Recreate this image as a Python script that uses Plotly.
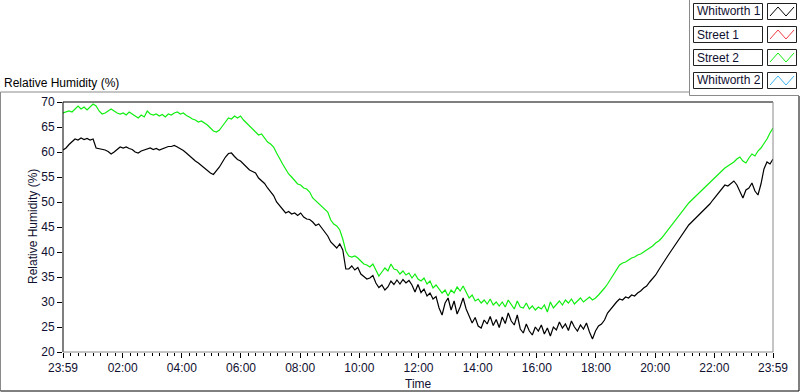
import numpy as np
import plotly.graph_objects as go

# ---------------- data ----------------
series_names = ["Whitworth 1", "Street 1", "Street 2", "Whitworth 2"]
series_colors = ["#000000", "#f03c46", "#10ee10", "#3cb4f0"]

tick_labels = ["23:59", "02:00", "04:00", "06:00", "08:00", "10:00", "12:00",
               "14:00", "16:00", "18:00", "20:00", "22:00", "23:59"]
tick_minutes = [0, 121, 241, 361, 481, 601, 721, 841, 961, 1081, 1201, 1321, 1440]

whitworth1 = [
    60.4, 60.8, 61.5, 62.0, 62.6, 62.4, 62.8, 62.5, 62.7, 62.4, 62.6, 60.8, 60.7, 60.5, 60.4, 60.1,
    59.6, 60.0, 60.6, 61.0, 60.8, 61.0, 60.7, 60.5, 60.0, 59.8, 60.2, 60.4, 60.6, 60.8, 60.5, 60.7,
    60.4, 60.6, 60.9, 61.1, 61.1, 61.3, 61.0, 60.7, 60.3, 59.8, 59.2, 58.7, 58.2, 57.8, 57.3, 56.8,
    56.2, 55.8, 55.5, 56.2, 57.0, 58.0, 59.0, 59.7, 59.8, 59.1, 58.5, 58.2, 57.6, 57.1, 56.4, 56.1,
    55.8, 54.8, 54.3, 53.7, 52.8, 52.0, 51.3, 50.0, 49.2, 48.5, 47.8, 48.1, 47.6, 47.8, 47.3, 47.8,
    47.0, 46.6, 46.5, 46.0, 45.3, 45.6, 44.8, 44.2, 43.2, 42.0, 41.3, 40.8, 41.6, 40.4, 36.6, 36.6,
    37.2, 36.4, 36.9, 35.6, 35.1, 34.6, 34.8, 35.3, 33.8, 32.9, 33.4, 32.4, 33.0, 34.2, 33.5, 34.4,
    33.6, 34.5, 33.8, 34.3, 33.4, 32.0, 33.5, 31.9, 32.6, 31.2, 31.8, 30.6, 31.1, 28.8, 27.4, 29.8,
    30.8, 28.4, 30.2, 27.6, 29.0, 30.8, 28.6, 27.2, 25.8, 26.9, 25.2, 24.8, 26.4, 25.6, 27.1, 25.3,
    26.5, 24.9, 27.0, 25.7, 27.8, 26.2, 25.4, 27.4, 24.6, 23.8, 25.6, 24.2, 23.4, 25.0, 24.2, 25.4,
    23.6, 24.8, 23.2, 25.0, 24.4, 26.0, 24.8, 25.6, 24.3, 26.2, 25.0, 24.2, 25.4, 24.6, 25.8, 24.0,
    22.6, 24.2, 25.2, 25.6, 26.4, 27.8, 28.6, 29.4, 30.0, 30.6, 30.4, 31.0, 30.8, 31.4, 31.2, 31.8,
    32.2, 32.8, 33.2, 34.0, 34.6, 35.4, 36.4, 37.4, 38.2, 39.2, 40.1, 41.0, 41.8, 42.8, 43.6, 44.6,
    45.4, 46.0, 46.6, 47.2, 47.8, 48.2, 48.8, 49.6, 50.4, 51.2, 52.0, 52.8, 53.4, 53.2, 53.8, 54.2,
    53.4, 52.0, 50.8, 52.4, 52.8, 53.8, 52.2, 51.4, 53.6, 56.6, 58.0, 57.6, 58.6,
]

street2 = [
    67.8, 68.0, 68.2, 68.0, 68.6, 69.2, 68.6, 69.0, 68.4, 69.0, 69.6, 69.2, 68.2, 67.6, 67.8, 68.2,
    68.6, 68.2, 67.8, 67.6, 67.8, 67.4, 68.0, 67.6, 67.2, 66.8, 67.4, 67.0, 68.2, 67.6, 67.4, 67.6,
    67.2, 67.5, 67.0, 67.6, 67.4, 67.8, 68.0, 67.6, 67.8, 67.3, 67.0, 66.6, 66.4, 66.0, 66.2, 65.8,
    65.4, 64.8, 64.2, 64.0, 64.4, 65.2, 66.0, 66.8, 66.6, 67.2, 66.8, 67.2, 66.4, 65.8, 65.2, 64.6,
    64.0, 63.4, 63.6, 62.8, 62.0, 61.6, 61.0, 59.8, 58.6, 57.6, 56.6, 55.6, 55.0, 54.2, 53.6, 53.4,
    52.8, 52.6, 52.0, 50.8, 50.2, 49.6, 49.0, 48.6, 48.0, 46.4, 45.6, 45.2, 44.4, 42.6, 40.2, 39.2,
    39.0, 39.2, 38.8, 38.2, 37.6, 37.4, 37.0, 37.6, 36.4, 35.2, 36.0, 36.8, 36.2, 37.6, 36.6, 36.4,
    35.6, 36.2, 35.4, 35.8, 34.8, 35.6, 34.6, 34.2, 34.8, 33.6, 34.2, 32.8, 33.4, 32.6, 31.8, 32.4,
    31.2, 32.4, 31.8, 33.0, 32.2, 33.2, 32.0, 30.8, 31.4, 30.2, 30.6, 29.8, 30.4, 29.6, 30.6, 29.4,
    30.0, 29.2, 30.0, 29.0, 30.4, 29.4, 28.6, 30.2, 29.0, 28.8, 29.8, 28.6, 29.2, 28.4, 29.0, 28.6,
    29.4, 28.0, 30.0, 28.8, 29.6, 30.2, 29.4, 30.4, 29.8, 30.6, 29.6, 30.2, 30.8, 30.0, 30.6, 31.0,
    30.4, 30.8, 31.4, 32.0, 32.8, 33.6, 34.6, 35.6, 36.6, 37.4, 37.8, 38.0, 38.4, 38.8, 39.0, 39.4,
    39.6, 40.0, 40.4, 40.8, 41.2, 41.8, 42.2, 42.8, 43.6, 44.4, 45.2, 45.8, 46.6, 47.4, 48.2, 49.0,
    49.8, 50.4, 51.0, 51.6, 52.2, 52.8, 53.4, 53.8, 54.4, 55.0, 55.6, 56.2, 56.8, 57.2, 57.6, 58.0,
    58.6, 59.0, 58.2, 57.8, 58.8, 59.6, 59.2, 60.2, 60.8, 61.6, 62.6, 63.8, 64.8,
]

# logged samples evenly spaced over the day (minutes after 23:59)
t_w1 = np.linspace(0, 1440, len(whitworth1))
t_s2 = np.linspace(0, 1440, len(street2))

# ---------------- layout helpers ----------------
W, H = 800, 392
L, R, T, B = 63, 773, 102, 352
PW, PH = R - L, B - T


def px(x):
    return (x - L) / PW


def py(y):
    return (B - y) / PH


FONT = "Liberation Sans, Arial, sans-serif"
TXT = "#101030"

fig = go.Figure()
fig.add_trace(go.Scatter(x=t_w1, y=whitworth1, mode="lines", name=series_names[0],
                         line=dict(color=series_colors[0], width=1.2), showlegend=False))
fig.add_trace(go.Scatter(x=t_s2, y=street2, mode="lines", name=series_names[2],
                         line=dict(color=series_colors[2], width=1.2), showlegend=False))

fig.update_layout(
    width=W, height=H,
    margin=dict(l=L, r=W - R, t=T, b=H - B),
    paper_bgcolor="white", plot_bgcolor="white",
    font=dict(family=FONT, size=12, color=TXT),
    showlegend=False,
    xaxis=dict(range=[0, 1440], tickmode="array", tickvals=tick_minutes, ticktext=tick_labels,
               showgrid=False, zeroline=False, showline=False,
               ticks="outside", ticklen=5, tickcolor="black", tickwidth=1,
               tickfont=dict(family=FONT, size=12, color=TXT),
               minor=dict(tickmode="linear", tick0=1, dtick=15, ticks="outside",
                          ticklen=3, tickcolor="black", tickwidth=1, showgrid=False)),
    yaxis=dict(range=[20, 70], tickmode="linear", tick0=20, dtick=5,
               showgrid=False, zeroline=False, showline=False,
               ticks="outside", ticklen=5, tickcolor="black", tickwidth=1,
               tickfont=dict(family=FONT, size=12, color=TXT)),
)

shapes = []
def line(x0, y0, x1, y1, color, width=1):
    shapes.append(dict(type="line", xref="paper", yref="paper",
                       x0=px(x0), y0=py(y0), x1=px(x1), y1=py(y1),
                       line=dict(color=color, width=width), layer="above"))

# plot frame (sunken look)
line(L, T, R, T, "black")
line(L, T, L, B, "black")
line(L, B, R, B, "#8a8a8a")
line(R, T, R, B, "#8a8a8a")

# outer panel
line(0.5, 92, 689.5, 92, "#8a8a8a")
line(0.5, 92, 0.5, 391, "#8a8a8a")
line(0.5, 391, 799, 391, "black")
line(799, 96, 799, 391, "black")
line(689.5, 0, 689.5, 95.5, "#8a8a8a")
line(689.5, 95.5, 799, 95.5, "#8a8a8a")

annotations = []
# legend
for i, (name, col) in enumerate(zip(series_names, series_colors)):
    top = 3 + 23 * i
    bot = top + 16
    shapes.append(dict(type="rect", xref="paper", yref="paper",
                       x0=px(693.5), x1=px(762.5), y0=py(bot + 0.5), y1=py(top + 0.5),
                       line=dict(color="#202020", width=1), fillcolor="white", layer="above"))
    shapes.append(dict(type="rect", xref="paper", yref="paper",
                       x0=px(767.5), x1=px(796.5), y0=py(bot + 0.5), y1=py(top + 0.5),
                       line=dict(color="#202020", width=1), fillcolor="white", layer="above"))
    zx = [770, 778, 786, 794]
    zy = [bot - 3, top + 4, bot - 3, top + 4]
    path = "M " + " L ".join(f"{px(a)},{py(b)}" for a, b in zip(zx, zy))
    shapes.append(dict(type="path", xref="paper", yref="paper", path=path,
                       line=dict(color=col, width=1), layer="above"))
    annotations.append(dict(text=name, xref="paper", yref="paper",
                            x=px(695), y=py(top + 8.5), xanchor="left", yanchor="middle",
                            showarrow=False, font=dict(family=FONT, size=12, color=TXT)))

# chart title
annotations.append(dict(text="Relative Humidity (%)", xref="paper", yref="paper",
                        x=px(2), y=py(83), xanchor="left", yanchor="middle", showarrow=False,
                        font=dict(family=FONT, size=12, color="black")))
# axis titles
annotations.append(dict(text="Relative Humidity (%)", xref="paper", yref="paper",
                        x=px(33), y=0.5, xanchor="center", yanchor="middle", textangle=-90,
                        showarrow=False, font=dict(family=FONT, size=12, color=TXT)))
annotations.append(dict(text="Time", xref="paper", yref="paper",
                        x=0.5, y=py(384), xanchor="center", yanchor="middle",
                        showarrow=False, font=dict(family=FONT, size=12, color=TXT)))

fig.update_layout(shapes=shapes, annotations=annotations)
fig.write_html("out.html", config={"displayModeBar": False},
               post_script="document.body.style.margin='0px';document.body.style.overflow='hidden';")
